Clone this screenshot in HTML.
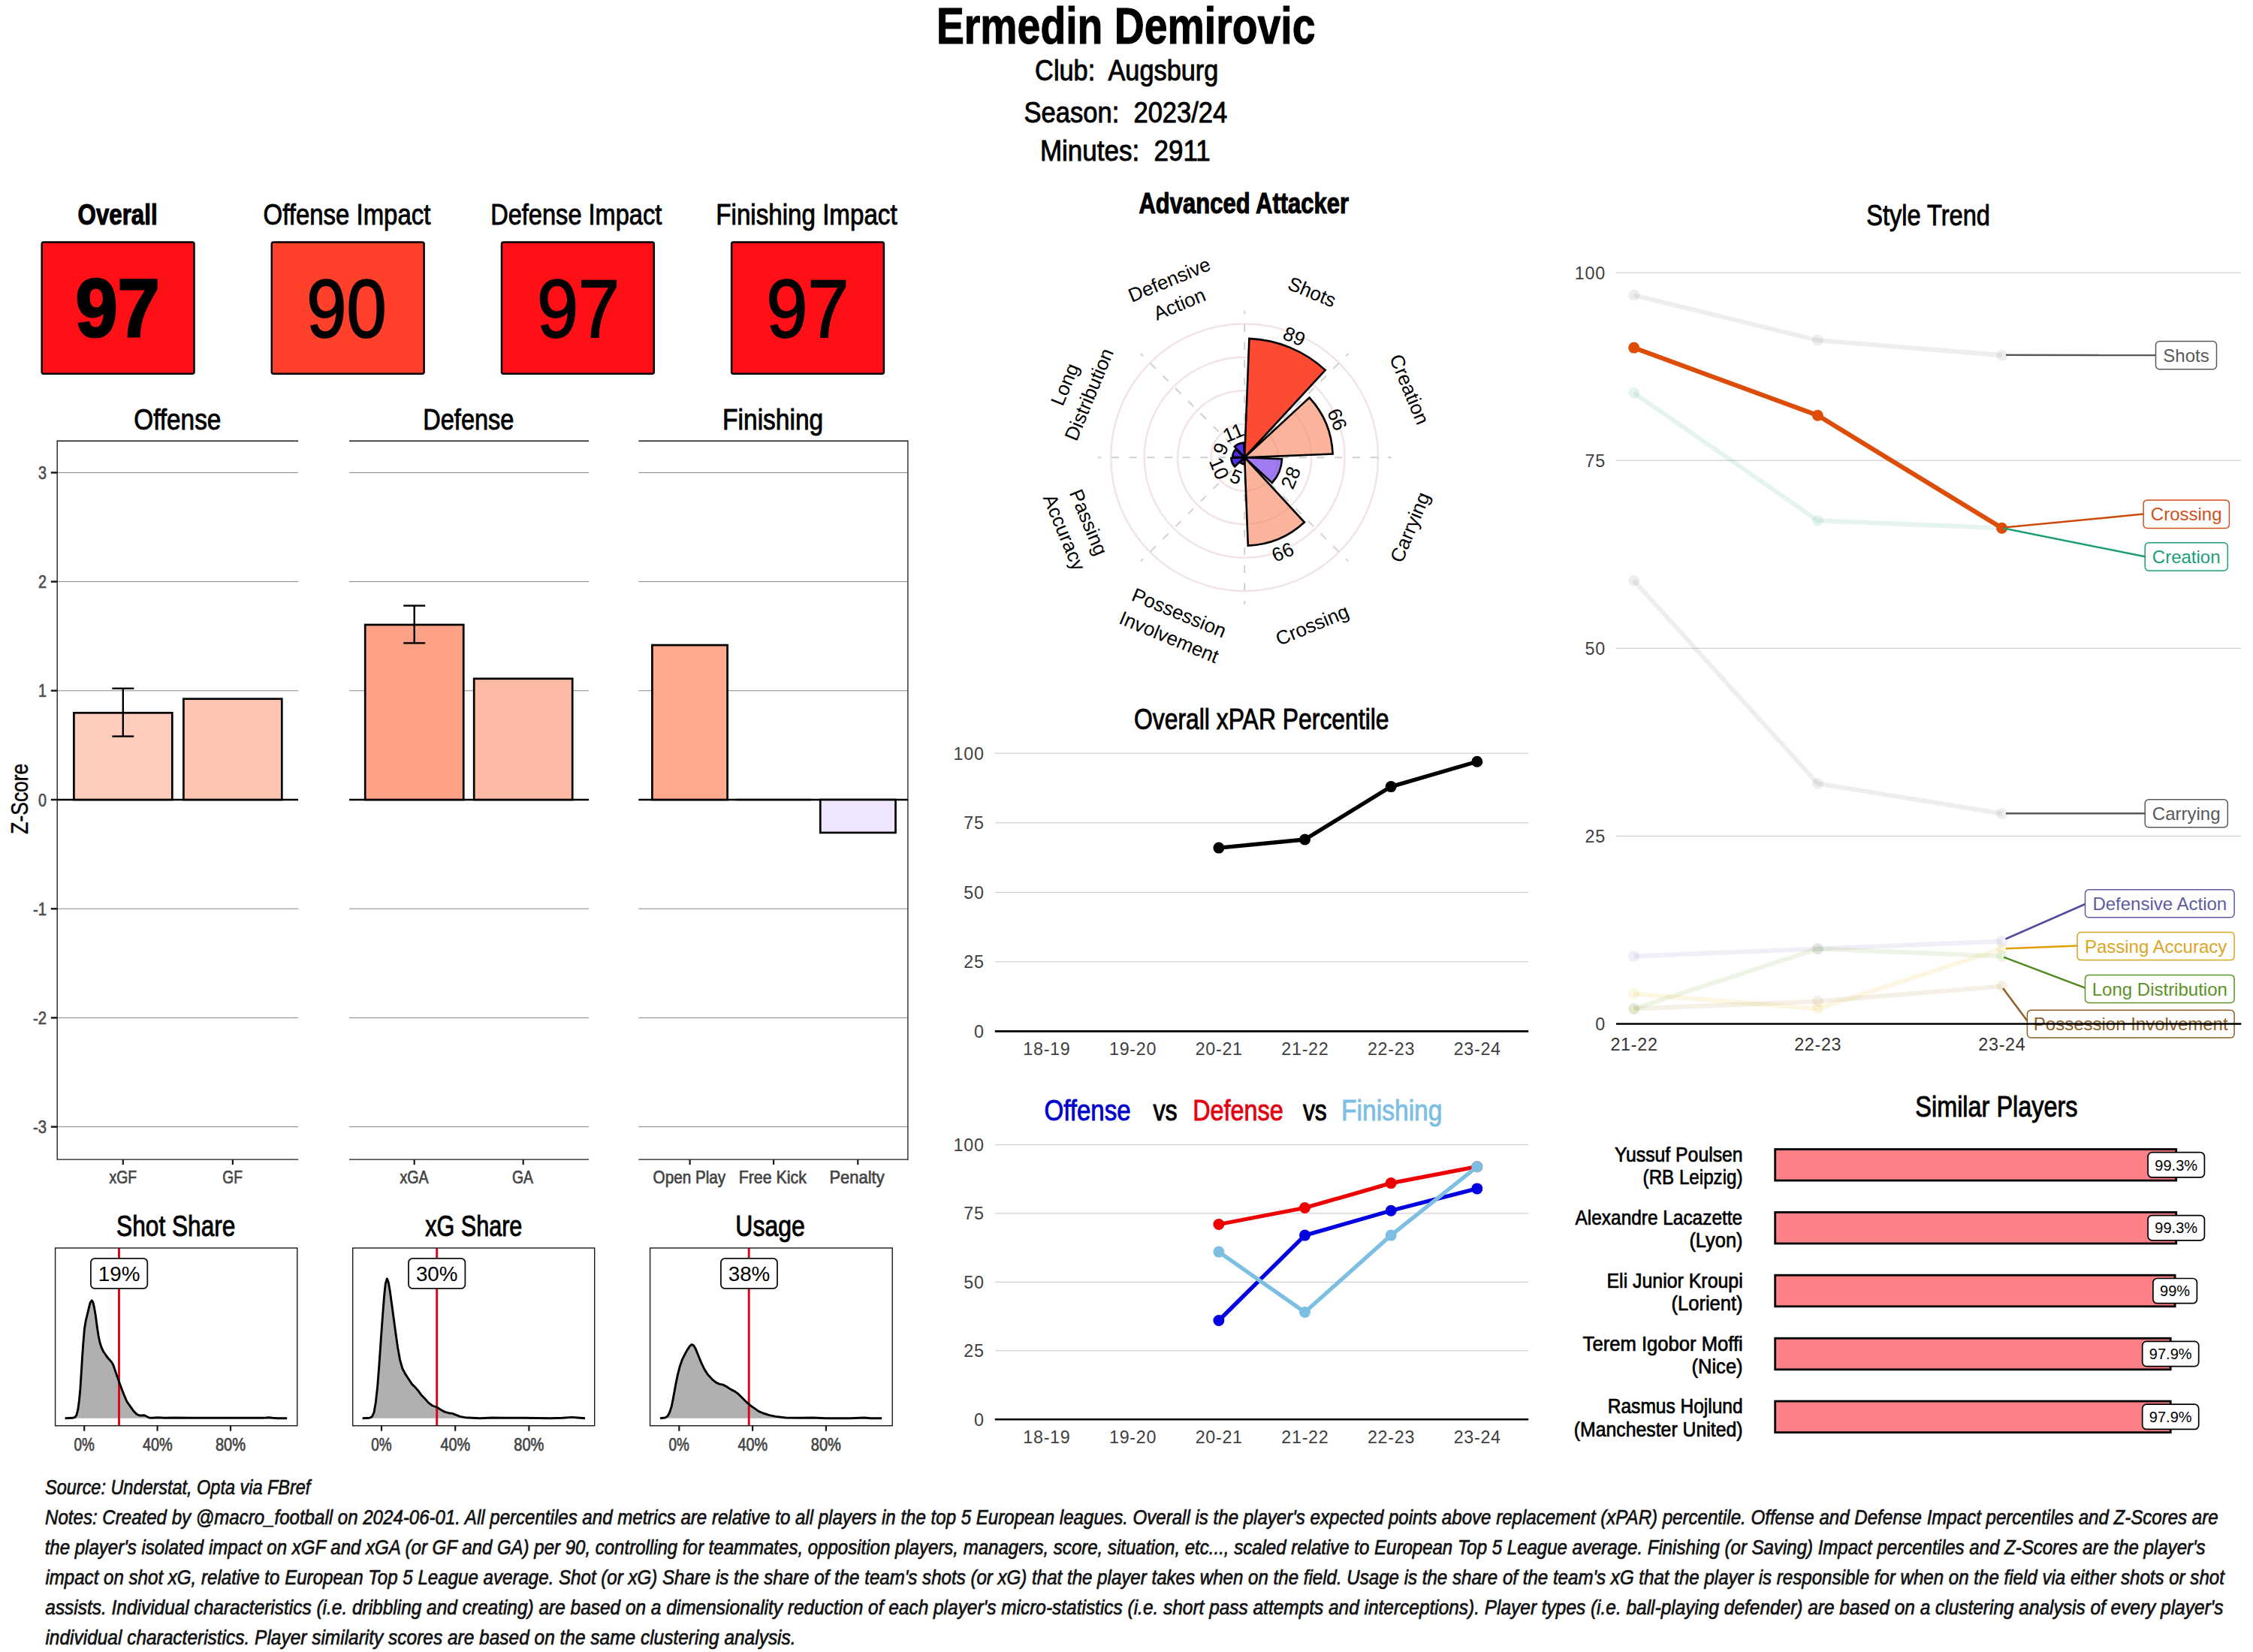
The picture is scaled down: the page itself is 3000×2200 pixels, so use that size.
<!DOCTYPE html>
<html lang="en"><head><meta charset="utf-8"><title>Ermedin Demirovic</title>
<style>
html,body{margin:0;padding:0;background:#fff;}
body{width:3000px;height:2200px;overflow:hidden;}
svg{display:block;font-family:'Liberation Sans', sans-serif;}
svg text{white-space:pre;}
</style></head><body>
<svg width="3000" height="2200" viewBox="0 0 3000 2200">
<rect width="3000" height="2200" fill="#fff"/>
<text x="1246.9" y="57.5" font-size="68.5" font-weight="bold" stroke="#000" stroke-width="1.1" textLength="504.6" lengthAdjust="spacingAndGlyphs">Ermedin Demirovic</text>
<text x="1378.1" y="106.5" font-size="38.6" stroke="#000" stroke-width="0.9" textLength="244.3" lengthAdjust="spacingAndGlyphs">Club:  Augsburg</text>
<text x="1363.5" y="162.5" font-size="38.6" stroke="#000" stroke-width="0.9" textLength="270.8" lengthAdjust="spacingAndGlyphs">Season:  2023/24</text>
<text x="1384.9" y="213.6" font-size="38.6" stroke="#000" stroke-width="0.9" textLength="226.9" lengthAdjust="spacingAndGlyphs">Minutes:  2911</text>
<g id="boxes">
<rect x="55.7" y="322.4" width="202.8" height="175.4" fill="#FF1016" stroke="#000" stroke-width="2.5" rx="2.5"/>
<rect x="361.8" y="322.4" width="202.8" height="175.4" fill="#FF402B" stroke="#000" stroke-width="2.5" rx="2.5"/>
<rect x="668.0" y="322.4" width="202.8" height="175.4" fill="#FF1016" stroke="#000" stroke-width="2.5" rx="2.5"/>
<rect x="974.1" y="322.4" width="202.8" height="175.4" fill="#FF1016" stroke="#000" stroke-width="2.5" rx="2.5"/>
</g>
<text x="103.6" y="299.3" font-size="38.6" font-weight="bold" stroke="#000" stroke-width="1.1" textLength="106.0" lengthAdjust="spacingAndGlyphs">Overall</text>
<text x="350.6" y="299.3" font-size="38.6" stroke="#000" stroke-width="0.9" textLength="222.8" lengthAdjust="spacingAndGlyphs">Offense Impact</text>
<text x="653.2" y="299.3" font-size="38.6" stroke="#000" stroke-width="0.9" textLength="228.1" lengthAdjust="spacingAndGlyphs">Defense Impact</text>
<text x="953.3" y="299.3" font-size="38.6" stroke="#000" stroke-width="0.9" textLength="241.3" lengthAdjust="spacingAndGlyphs">Finishing Impact</text>
<text x="100.4" y="448.4" font-size="109.5" font-weight="bold" stroke="#000" stroke-width="3.0" textLength="112.4" lengthAdjust="spacingAndGlyphs">97</text>
<text x="408.3" y="448.6" font-size="109.5" stroke="#000" stroke-width="2.0" textLength="106.4" lengthAdjust="spacingAndGlyphs">90</text>
<text x="714.9" y="448.6" font-size="109.5" stroke="#000" stroke-width="2.0" textLength="110.3" lengthAdjust="spacingAndGlyphs">97</text>
<text x="1020.6" y="448.6" font-size="109.5" stroke="#000" stroke-width="2.0" textLength="109.8" lengthAdjust="spacingAndGlyphs">97</text>
<line x1="76.2" y1="629.4" x2="397.1" y2="629.4" stroke="#858585" stroke-width="1.0"/>
<line x1="76.2" y1="774.6" x2="397.1" y2="774.6" stroke="#858585" stroke-width="1.0"/>
<line x1="76.2" y1="919.8" x2="397.1" y2="919.8" stroke="#858585" stroke-width="1.0"/>
<line x1="76.2" y1="1210.2" x2="397.1" y2="1210.2" stroke="#858585" stroke-width="1.0"/>
<line x1="76.2" y1="1355.4" x2="397.1" y2="1355.4" stroke="#858585" stroke-width="1.0"/>
<line x1="76.2" y1="1500.6" x2="397.1" y2="1500.6" stroke="#858585" stroke-width="1.0"/>
<line x1="76.2" y1="587.2" x2="397.1" y2="587.2" stroke="#1a1a1a" stroke-width="1.35"/>
<line x1="76.2" y1="1544.1" x2="397.1" y2="1544.1" stroke="#1a1a1a" stroke-width="1.35"/>
<line x1="465.0" y1="629.4" x2="784.1" y2="629.4" stroke="#858585" stroke-width="1.0"/>
<line x1="465.0" y1="774.6" x2="784.1" y2="774.6" stroke="#858585" stroke-width="1.0"/>
<line x1="465.0" y1="919.8" x2="784.1" y2="919.8" stroke="#858585" stroke-width="1.0"/>
<line x1="465.0" y1="1210.2" x2="784.1" y2="1210.2" stroke="#858585" stroke-width="1.0"/>
<line x1="465.0" y1="1355.4" x2="784.1" y2="1355.4" stroke="#858585" stroke-width="1.0"/>
<line x1="465.0" y1="1500.6" x2="784.1" y2="1500.6" stroke="#858585" stroke-width="1.0"/>
<line x1="465.0" y1="587.2" x2="784.1" y2="587.2" stroke="#1a1a1a" stroke-width="1.35"/>
<line x1="465.0" y1="1544.1" x2="784.1" y2="1544.1" stroke="#1a1a1a" stroke-width="1.35"/>
<line x1="850.3" y1="629.4" x2="1208.9" y2="629.4" stroke="#858585" stroke-width="1.0"/>
<line x1="850.3" y1="774.6" x2="1208.9" y2="774.6" stroke="#858585" stroke-width="1.0"/>
<line x1="850.3" y1="919.8" x2="1208.9" y2="919.8" stroke="#858585" stroke-width="1.0"/>
<line x1="850.3" y1="1210.2" x2="1208.9" y2="1210.2" stroke="#858585" stroke-width="1.0"/>
<line x1="850.3" y1="1355.4" x2="1208.9" y2="1355.4" stroke="#858585" stroke-width="1.0"/>
<line x1="850.3" y1="1500.6" x2="1208.9" y2="1500.6" stroke="#858585" stroke-width="1.0"/>
<line x1="850.3" y1="587.2" x2="1208.9" y2="587.2" stroke="#1a1a1a" stroke-width="1.35"/>
<line x1="850.3" y1="1544.1" x2="1208.9" y2="1544.1" stroke="#1a1a1a" stroke-width="1.35"/>
<line x1="76.2" y1="586.5" x2="76.2" y2="1544.8" stroke="#1a1a1a" stroke-width="1.35"/>
<line x1="1208.9" y1="586.4" x2="1208.9" y2="1544.9" stroke="#1a1a1a" stroke-width="1.3"/>
<line x1="67.8" y1="629.4" x2="76.2" y2="629.4" stroke="#1a1a1a" stroke-width="2.5"/>
<text x="62.0" y="638.0" font-size="24" text-anchor="end" fill="#4D4D4D" stroke="#4D4D4D" stroke-width="0.7" textLength="11.0" lengthAdjust="spacingAndGlyphs">3</text>
<line x1="67.8" y1="774.6" x2="76.2" y2="774.6" stroke="#1a1a1a" stroke-width="2.5"/>
<text x="62.0" y="783.2" font-size="24" text-anchor="end" fill="#4D4D4D" stroke="#4D4D4D" stroke-width="0.7" textLength="11.0" lengthAdjust="spacingAndGlyphs">2</text>
<line x1="67.8" y1="919.8" x2="76.2" y2="919.8" stroke="#1a1a1a" stroke-width="2.5"/>
<text x="62.0" y="928.4" font-size="24" text-anchor="end" fill="#4D4D4D" stroke="#4D4D4D" stroke-width="0.7" textLength="11.0" lengthAdjust="spacingAndGlyphs">1</text>
<line x1="67.8" y1="1065.0" x2="76.2" y2="1065.0" stroke="#1a1a1a" stroke-width="2.5"/>
<text x="62.0" y="1073.6" font-size="24" text-anchor="end" fill="#4D4D4D" stroke="#4D4D4D" stroke-width="0.7" textLength="11.0" lengthAdjust="spacingAndGlyphs">0</text>
<line x1="67.8" y1="1210.2" x2="76.2" y2="1210.2" stroke="#1a1a1a" stroke-width="2.5"/>
<text x="62.0" y="1218.8" font-size="24" text-anchor="end" fill="#4D4D4D" stroke="#4D4D4D" stroke-width="0.7" textLength="18.0" lengthAdjust="spacingAndGlyphs">-1</text>
<line x1="67.8" y1="1355.4" x2="76.2" y2="1355.4" stroke="#1a1a1a" stroke-width="2.5"/>
<text x="62.0" y="1364.0" font-size="24" text-anchor="end" fill="#4D4D4D" stroke="#4D4D4D" stroke-width="0.7" textLength="18.0" lengthAdjust="spacingAndGlyphs">-2</text>
<line x1="67.8" y1="1500.6" x2="76.2" y2="1500.6" stroke="#1a1a1a" stroke-width="2.5"/>
<text x="62.0" y="1509.2" font-size="24" text-anchor="end" fill="#4D4D4D" stroke="#4D4D4D" stroke-width="0.7" textLength="18.0" lengthAdjust="spacingAndGlyphs">-3</text>
<text font-size="30.5" stroke="#000" stroke-width="0.5" text-anchor="middle" textLength="94" lengthAdjust="spacingAndGlyphs" transform="translate(37.3 1063.7) rotate(-90)">Z-Score</text>
<text x="178.2" y="572.2" font-size="38.6" stroke="#000" stroke-width="0.9" textLength="116.2" lengthAdjust="spacingAndGlyphs">Offense</text>
<text x="563.3" y="572.2" font-size="38.6" stroke="#000" stroke-width="0.9" textLength="121.1" lengthAdjust="spacingAndGlyphs">Defense</text>
<text x="962.1" y="572.2" font-size="38.6" stroke="#000" stroke-width="0.9" textLength="134.1" lengthAdjust="spacingAndGlyphs">Finishing</text>
<line x1="76.2" y1="1065.0" x2="397.1" y2="1065.0" stroke="#000" stroke-width="2.6"/>
<line x1="465.0" y1="1065.0" x2="784.1" y2="1065.0" stroke="#000" stroke-width="2.6"/>
<line x1="850.3" y1="1065.0" x2="1208.9" y2="1065.0" stroke="#000" stroke-width="2.6"/>
<rect x="98.4" y="949.3" width="130.9" height="115.7" fill="#FECDBC" stroke="#000" stroke-width="2.7"/>
<rect x="244.4" y="930.7" width="130.9" height="134.3" fill="#FEC5B3" stroke="#000" stroke-width="2.7"/>
<line x1="163.8" y1="916.8" x2="163.8" y2="980.6" stroke="#000" stroke-width="2.4"/>
<line x1="149.3" y1="916.8" x2="178.3" y2="916.8" stroke="#000" stroke-width="2.4"/>
<line x1="149.3" y1="980.6" x2="178.3" y2="980.6" stroke="#000" stroke-width="2.4"/>
<rect x="486.2" y="832.0" width="131.0" height="233.0" fill="#FDA286" stroke="#000" stroke-width="2.7"/>
<rect x="631.2" y="903.8" width="131.0" height="161.2" fill="#FEBAA5" stroke="#000" stroke-width="2.7"/>
<line x1="551.7" y1="806.6" x2="551.7" y2="856.4" stroke="#000" stroke-width="2.4"/>
<line x1="537.2" y1="806.6" x2="566.2" y2="806.6" stroke="#000" stroke-width="2.4"/>
<line x1="537.2" y1="856.4" x2="566.2" y2="856.4" stroke="#000" stroke-width="2.4"/>
<rect x="868.4" y="859.1" width="100.2" height="205.9" fill="#FDA98E" stroke="#000" stroke-width="2.7"/>
<line x1="980.4" y1="1065.0" x2="1080.6" y2="1065.0" stroke="#000" stroke-width="2.4"/>
<rect x="1092.3" y="1065.0" width="100.2" height="43.9" fill="#EFE6FD" stroke="#000" stroke-width="2.7"/>
<line x1="163.8" y1="1544.1" x2="163.8" y2="1551.1" stroke="#1a1a1a" stroke-width="2.2"/>
<text x="145.6" y="1575.8" font-size="24" fill="#444444" stroke="#444444" stroke-width="0.7" textLength="36.6" lengthAdjust="spacingAndGlyphs">xGF</text>
<line x1="309.9" y1="1544.1" x2="309.9" y2="1551.1" stroke="#1a1a1a" stroke-width="2.2"/>
<text x="296.3" y="1575.8" font-size="24" fill="#444444" stroke="#444444" stroke-width="0.7" textLength="26.6" lengthAdjust="spacingAndGlyphs">GF</text>
<line x1="551.7" y1="1544.1" x2="551.7" y2="1551.1" stroke="#1a1a1a" stroke-width="2.2"/>
<text x="532.4" y="1575.8" font-size="24" fill="#444444" stroke="#444444" stroke-width="0.7" textLength="38.3" lengthAdjust="spacingAndGlyphs">xGA</text>
<line x1="696.7" y1="1544.1" x2="696.7" y2="1551.1" stroke="#1a1a1a" stroke-width="2.2"/>
<text x="682.0" y="1575.8" font-size="24" fill="#444444" stroke="#444444" stroke-width="0.7" textLength="28.0" lengthAdjust="spacingAndGlyphs">GA</text>
<line x1="918.6" y1="1544.1" x2="918.6" y2="1551.1" stroke="#1a1a1a" stroke-width="2.2"/>
<text x="869.6" y="1575.8" font-size="24" fill="#444444" stroke="#444444" stroke-width="0.7" textLength="96.6" lengthAdjust="spacingAndGlyphs">Open Play</text>
<line x1="1030.1" y1="1544.1" x2="1030.1" y2="1551.1" stroke="#1a1a1a" stroke-width="2.2"/>
<text x="983.7" y="1575.8" font-size="24" fill="#444444" stroke="#444444" stroke-width="0.7" textLength="90.2" lengthAdjust="spacingAndGlyphs">Free Kick</text>
<line x1="1142.3" y1="1544.1" x2="1142.3" y2="1551.1" stroke="#1a1a1a" stroke-width="2.2"/>
<text x="1104.5" y="1575.8" font-size="24" fill="#444444" stroke="#444444" stroke-width="0.7" textLength="73.1" lengthAdjust="spacingAndGlyphs">Penalty</text>
<text x="155.1" y="1646.3" font-size="38.6" stroke="#000" stroke-width="0.9" textLength="158.3" lengthAdjust="spacingAndGlyphs">Shot Share</text>
<path d="M86.6,1888.7 L96.5,1888.3 L99.9,1887.4 L101.9,1884.4 L103.9,1876.7 L105.5,1864.4 L106.9,1849.4 L108.2,1829.4 L109.5,1807.8 L110.9,1787.8 L112.5,1769.5 L114.2,1758.9 L116.5,1749.5 L118.5,1741.2 L120.2,1734.6 L122.2,1731.9 L123.8,1734.2 L125.5,1741.2 L127.2,1751.2 L129.2,1766.2 L131.2,1779.5 L133.2,1788.8 L135.5,1795.5 L138.1,1800.5 L141.5,1805.5 L145.1,1810.1 L148.5,1813.8 L150.8,1817.8 L153.1,1824.4 L156.5,1834.4 L160.5,1845.4 L164.8,1856.7 L169.1,1866.7 L173.8,1873.4 L178.1,1879.4 L182.1,1883.4 L185.8,1885.0 L189.1,1885.0 L191.7,1884.7 L194.7,1886.0 L198.7,1888.0 L203.1,1888.3 L209.7,1887.7 L219.7,1888.3 L233.0,1888.0 L253.0,1888.3 L299.6,1888.3 L349.5,1888.3 L354.5,1888.0 L357.9,1887.7 L362.8,1888.3 L369.5,1888.7 L382.2,1888.7 Z" fill="#B0B0B0" stroke="none"/>
<line x1="158.5" y1="1662.0" x2="158.5" y2="1898.7" stroke="#D6051A" stroke-width="2.9"/>
<path d="M86.6,1888.7 L96.5,1888.3 L99.9,1887.4 L101.9,1884.4 L103.9,1876.7 L105.5,1864.4 L106.9,1849.4 L108.2,1829.4 L109.5,1807.8 L110.9,1787.8 L112.5,1769.5 L114.2,1758.9 L116.5,1749.5 L118.5,1741.2 L120.2,1734.6 L122.2,1731.9 L123.8,1734.2 L125.5,1741.2 L127.2,1751.2 L129.2,1766.2 L131.2,1779.5 L133.2,1788.8 L135.5,1795.5 L138.1,1800.5 L141.5,1805.5 L145.1,1810.1 L148.5,1813.8 L150.8,1817.8 L153.1,1824.4 L156.5,1834.4 L160.5,1845.4 L164.8,1856.7 L169.1,1866.7 L173.8,1873.4 L178.1,1879.4 L182.1,1883.4 L185.8,1885.0 L189.1,1885.0 L191.7,1884.7 L194.7,1886.0 L198.7,1888.0 L203.1,1888.3 L209.7,1887.7 L219.7,1888.3 L233.0,1888.0 L253.0,1888.3 L299.6,1888.3 L349.5,1888.3 L354.5,1888.0 L357.9,1887.7 L362.8,1888.3 L369.5,1888.7 L382.2,1888.7" fill="none" stroke="#000" stroke-width="2.9" stroke-linejoin="round"/>
<rect x="73.6" y="1662.0" width="322.2" height="236.7" fill="none" stroke="#1a1a1a" stroke-width="1.4"/>
<rect x="120.9" y="1675.9" width="75.4" height="40.0" fill="#fff" stroke="#111" stroke-width="1.8" rx="5.5"/>
<text x="158.6" y="1705.8" font-size="27.8" text-anchor="middle">19%</text>
<line x1="112.2" y1="1898.7" x2="112.2" y2="1905.7" stroke="#1a1a1a" stroke-width="2.2"/>
<text x="98.5" y="1931.6" font-size="24" fill="#444444" stroke="#444444" stroke-width="0.7" textLength="27.3" lengthAdjust="spacingAndGlyphs">0%</text>
<line x1="209.6" y1="1898.7" x2="209.6" y2="1905.7" stroke="#1a1a1a" stroke-width="2.2"/>
<text x="189.9" y="1931.6" font-size="24" fill="#444444" stroke="#444444" stroke-width="0.7" textLength="39.7" lengthAdjust="spacingAndGlyphs">40%</text>
<line x1="307.0" y1="1898.7" x2="307.0" y2="1905.7" stroke="#1a1a1a" stroke-width="2.2"/>
<text x="286.9" y="1931.6" font-size="24" fill="#444444" stroke="#444444" stroke-width="0.7" textLength="40.1" lengthAdjust="spacingAndGlyphs">80%</text>
<text x="566.2" y="1646.3" font-size="38.6" stroke="#000" stroke-width="0.9" textLength="129.2" lengthAdjust="spacingAndGlyphs">xG Share</text>
<path d="M482.7,1888.7 L492.0,1888.3 L495.3,1886.7 L498.0,1881.0 L500.3,1867.7 L502.7,1846.1 L505.0,1816.1 L507.3,1782.8 L509.7,1749.5 L511.7,1724.6 L513.3,1709.6 L515.3,1702.9 L517.3,1707.9 L519.3,1719.6 L521.6,1736.2 L524.3,1756.2 L527.0,1776.2 L529.6,1794.5 L532.6,1811.1 L536.0,1822.8 L539.9,1830.1 L544.3,1836.8 L548.6,1843.4 L552.6,1847.1 L556.6,1851.7 L560.9,1857.7 L565.9,1862.7 L570.9,1868.4 L575.9,1872.0 L581.6,1874.0 L587.5,1877.7 L592.5,1880.4 L597.5,1881.7 L602.5,1882.4 L607.5,1884.4 L612.5,1886.4 L619.2,1887.7 L629.2,1888.3 L639.1,1888.7 L655.8,1888.0 L672.4,1888.3 L699.1,1888.3 L732.4,1888.7 L749.0,1888.3 L762.3,1887.4 L769.0,1888.0 L779.0,1888.7 Z" fill="#B0B0B0" stroke="none"/>
<line x1="581.7" y1="1662.0" x2="581.7" y2="1898.7" stroke="#D6051A" stroke-width="2.9"/>
<path d="M482.7,1888.7 L492.0,1888.3 L495.3,1886.7 L498.0,1881.0 L500.3,1867.7 L502.7,1846.1 L505.0,1816.1 L507.3,1782.8 L509.7,1749.5 L511.7,1724.6 L513.3,1709.6 L515.3,1702.9 L517.3,1707.9 L519.3,1719.6 L521.6,1736.2 L524.3,1756.2 L527.0,1776.2 L529.6,1794.5 L532.6,1811.1 L536.0,1822.8 L539.9,1830.1 L544.3,1836.8 L548.6,1843.4 L552.6,1847.1 L556.6,1851.7 L560.9,1857.7 L565.9,1862.7 L570.9,1868.4 L575.9,1872.0 L581.6,1874.0 L587.5,1877.7 L592.5,1880.4 L597.5,1881.7 L602.5,1882.4 L607.5,1884.4 L612.5,1886.4 L619.2,1887.7 L629.2,1888.3 L639.1,1888.7 L655.8,1888.0 L672.4,1888.3 L699.1,1888.3 L732.4,1888.7 L749.0,1888.3 L762.3,1887.4 L769.0,1888.0 L779.0,1888.7" fill="none" stroke="#000" stroke-width="2.9" stroke-linejoin="round"/>
<rect x="469.7" y="1662.0" width="322.0" height="236.7" fill="none" stroke="#1a1a1a" stroke-width="1.4"/>
<rect x="544.0" y="1675.9" width="75.4" height="40.0" fill="#fff" stroke="#111" stroke-width="1.8" rx="5.5"/>
<text x="581.7" y="1705.8" font-size="27.8" text-anchor="middle">30%</text>
<line x1="508.0" y1="1898.7" x2="508.0" y2="1905.7" stroke="#1a1a1a" stroke-width="2.2"/>
<text x="494.3" y="1931.6" font-size="24" fill="#444444" stroke="#444444" stroke-width="0.7" textLength="27.3" lengthAdjust="spacingAndGlyphs">0%</text>
<line x1="606.2" y1="1898.7" x2="606.2" y2="1905.7" stroke="#1a1a1a" stroke-width="2.2"/>
<text x="586.5" y="1931.6" font-size="24" fill="#444444" stroke="#444444" stroke-width="0.7" textLength="39.7" lengthAdjust="spacingAndGlyphs">40%</text>
<line x1="704.4" y1="1898.7" x2="704.4" y2="1905.7" stroke="#1a1a1a" stroke-width="2.2"/>
<text x="684.3" y="1931.6" font-size="24" fill="#444444" stroke="#444444" stroke-width="0.7" textLength="40.1" lengthAdjust="spacingAndGlyphs">80%</text>
<text x="979.3" y="1646.3" font-size="38.6" stroke="#000" stroke-width="0.9" textLength="92.5" lengthAdjust="spacingAndGlyphs">Usage</text>
<path d="M879.0,1888.7 L885.6,1888.0 L888.9,1886.0 L891.6,1881.0 L894.3,1872.7 L896.9,1859.4 L899.6,1844.4 L902.3,1831.1 L905.3,1819.4 L908.6,1810.1 L912.3,1802.8 L916.2,1796.1 L918.9,1792.1 L921.2,1790.5 L923.6,1791.8 L926.2,1796.1 L929.6,1804.5 L933.6,1814.4 L937.9,1823.4 L942.9,1831.1 L948.5,1837.1 L953.5,1841.1 L957.9,1843.1 L962.8,1844.1 L967.8,1846.7 L972.8,1850.1 L978.8,1853.1 L983.5,1856.7 L988.8,1862.1 L994.5,1867.7 L999.5,1872.0 L1004.5,1875.4 L1010.1,1879.4 L1016.1,1882.0 L1024.4,1884.7 L1032.8,1886.4 L1046.1,1888.0 L1066.0,1888.3 L1082.7,1888.0 L1099.3,1888.7 L1132.6,1888.7 L1144.3,1888.3 L1150.9,1888.0 L1159.3,1888.7 L1174.2,1888.7 Z" fill="#B0B0B0" stroke="none"/>
<line x1="997.2" y1="1662.0" x2="997.2" y2="1898.7" stroke="#D6051A" stroke-width="2.9"/>
<path d="M879.0,1888.7 L885.6,1888.0 L888.9,1886.0 L891.6,1881.0 L894.3,1872.7 L896.9,1859.4 L899.6,1844.4 L902.3,1831.1 L905.3,1819.4 L908.6,1810.1 L912.3,1802.8 L916.2,1796.1 L918.9,1792.1 L921.2,1790.5 L923.6,1791.8 L926.2,1796.1 L929.6,1804.5 L933.6,1814.4 L937.9,1823.4 L942.9,1831.1 L948.5,1837.1 L953.5,1841.1 L957.9,1843.1 L962.8,1844.1 L967.8,1846.7 L972.8,1850.1 L978.8,1853.1 L983.5,1856.7 L988.8,1862.1 L994.5,1867.7 L999.5,1872.0 L1004.5,1875.4 L1010.1,1879.4 L1016.1,1882.0 L1024.4,1884.7 L1032.8,1886.4 L1046.1,1888.0 L1066.0,1888.3 L1082.7,1888.0 L1099.3,1888.7 L1132.6,1888.7 L1144.3,1888.3 L1150.9,1888.0 L1159.3,1888.7 L1174.2,1888.7" fill="none" stroke="#000" stroke-width="2.9" stroke-linejoin="round"/>
<rect x="865.6" y="1662.0" width="322.6" height="236.7" fill="none" stroke="#1a1a1a" stroke-width="1.4"/>
<rect x="959.9" y="1675.9" width="75.1" height="40.0" fill="#fff" stroke="#111" stroke-width="1.8" rx="5.5"/>
<text x="997.5" y="1705.8" font-size="27.8" text-anchor="middle">38%</text>
<line x1="904.3" y1="1898.7" x2="904.3" y2="1905.7" stroke="#1a1a1a" stroke-width="2.2"/>
<text x="890.6" y="1931.6" font-size="24" fill="#444444" stroke="#444444" stroke-width="0.7" textLength="27.3" lengthAdjust="spacingAndGlyphs">0%</text>
<line x1="1002.1" y1="1898.7" x2="1002.1" y2="1905.7" stroke="#1a1a1a" stroke-width="2.2"/>
<text x="982.4" y="1931.6" font-size="24" fill="#444444" stroke="#444444" stroke-width="0.7" textLength="39.7" lengthAdjust="spacingAndGlyphs">40%</text>
<line x1="1099.9" y1="1898.7" x2="1099.9" y2="1905.7" stroke="#1a1a1a" stroke-width="2.2"/>
<text x="1079.8" y="1931.6" font-size="24" fill="#444444" stroke="#444444" stroke-width="0.7" textLength="40.1" lengthAdjust="spacingAndGlyphs">80%</text>
<text x="1516.5" y="284.3" font-size="38.6" font-weight="bold" stroke="#000" stroke-width="1.1" textLength="279.5" lengthAdjust="spacingAndGlyphs">Advanced Attacker</text>
<circle cx="1657.2" cy="609.2" r="44.5" fill="none" stroke="#F2E3E6" stroke-width="2.5"/>
<circle cx="1657.2" cy="609.2" r="89.0" fill="none" stroke="#F2E3E6" stroke-width="2.5"/>
<circle cx="1657.2" cy="609.2" r="133.5" fill="none" stroke="#F2E3E6" stroke-width="2.5"/>
<circle cx="1657.2" cy="609.2" r="178.0" fill="none" stroke="#F2E3E6" stroke-width="2.5"/>
<line x1="1657.2" y1="609.2" x2="1657.2" y2="413.7" stroke="#CFCFCF" stroke-width="1.9" stroke-dasharray="10.2 13.5" stroke-dashoffset="-1.3"/>
<line x1="1657.2" y1="609.2" x2="1795.4" y2="471.0" stroke="#CFCFCF" stroke-width="1.9" stroke-dasharray="10.2 13.5" stroke-dashoffset="-1.3"/>
<line x1="1657.2" y1="609.2" x2="1852.7" y2="609.2" stroke="#CFCFCF" stroke-width="1.9" stroke-dasharray="10.2 13.5" stroke-dashoffset="-1.3"/>
<line x1="1657.2" y1="609.2" x2="1795.4" y2="747.4" stroke="#CFCFCF" stroke-width="1.9" stroke-dasharray="10.2 13.5" stroke-dashoffset="-1.3"/>
<line x1="1657.2" y1="609.2" x2="1657.2" y2="804.7" stroke="#CFCFCF" stroke-width="1.9" stroke-dasharray="10.2 13.5" stroke-dashoffset="-1.3"/>
<line x1="1657.2" y1="609.2" x2="1519.0" y2="747.4" stroke="#CFCFCF" stroke-width="1.9" stroke-dasharray="10.2 13.5" stroke-dashoffset="-1.3"/>
<line x1="1657.2" y1="609.2" x2="1461.7" y2="609.2" stroke="#CFCFCF" stroke-width="1.9" stroke-dasharray="10.2 13.5" stroke-dashoffset="-1.3"/>
<line x1="1657.2" y1="609.2" x2="1519.0" y2="471.0" stroke="#CFCFCF" stroke-width="1.9" stroke-dasharray="10.2 13.5" stroke-dashoffset="-1.3"/>
<path d="M1657.2,609.2 L1663.4,450.9 A158.4,158.4 0 0 1 1764.7,492.9 Z" fill="#FC4A33" stroke="#000" stroke-width="2.6" stroke-linejoin="miter"/>
<path d="M1657.2,609.2 L1743.5,529.5 A117.5,117.5 0 0 1 1774.6,604.6 Z" fill="#FCB49B" stroke="#000" stroke-width="2.6" stroke-linejoin="miter"/>
<path d="M1657.2,609.2 L1707.0,611.2 A49.8,49.8 0 0 1 1693.8,643.0 Z" fill="#A17CF2" stroke="#000" stroke-width="2.6" stroke-linejoin="miter"/>
<path d="M1657.2,609.2 L1736.9,695.5 A117.5,117.5 0 0 1 1661.8,726.6 Z" fill="#FCB49B" stroke="#000" stroke-width="2.6" stroke-linejoin="miter"/>
<path d="M1657.2,609.2 L1656.9,618.1 A8.9,8.9 0 0 1 1651.2,615.7 Z" fill="#4326E4" stroke="#000" stroke-width="2.6" stroke-linejoin="miter"/>
<path d="M1657.2,609.2 L1644.1,621.3 A17.8,17.8 0 0 1 1639.4,609.9 Z" fill="#5030E8" stroke="#000" stroke-width="2.6" stroke-linejoin="miter"/>
<path d="M1657.2,609.2 L1641.2,608.6 A16.0,16.0 0 0 1 1645.4,598.3 Z" fill="#4D2EE7" stroke="#000" stroke-width="2.6" stroke-linejoin="miter"/>
<path d="M1657.2,609.2 L1643.9,594.8 A19.6,19.6 0 0 1 1656.4,589.6 Z" fill="#5332E9" stroke="#000" stroke-width="2.6" stroke-linejoin="miter"/>
<clipPath id="pc"><path d="M1657.2,609.2 L1743.5,529.5 A117.5,117.5 0 0 1 1774.6,604.6 Z M1657.2,609.2 L1707.0,611.2 A49.8,49.8 0 0 1 1693.8,643.0 Z M1657.2,609.2 L1736.9,695.5 A117.5,117.5 0 0 1 1661.8,726.6 Z"/></clipPath>
<g clip-path="url(#pc)" opacity="0.05">
<circle cx="1657.2" cy="609.2" r="44.5" fill="none" stroke="#000" stroke-width="2"/>
<circle cx="1657.2" cy="609.2" r="89.0" fill="none" stroke="#000" stroke-width="2"/>
<circle cx="1657.2" cy="609.2" r="133.5" fill="none" stroke="#000" stroke-width="2"/>
</g>
<text font-size="26" text-anchor="middle" transform="translate(1723.5 447.7) rotate(22.5)" y="9.3">89</text>
<text font-size="26" text-anchor="middle" transform="translate(1747.2 388.5) rotate(22.5)" y="9.3">Shots</text>
<text font-size="26" text-anchor="middle" transform="translate(1780.9 558.5) rotate(67.5)" y="9.3">66</text>
<text font-size="26" text-anchor="middle" transform="translate(1877.1 518.4) rotate(67.5)" y="9.3">Creation</text>
<text font-size="26" text-anchor="middle" transform="translate(1718.4 636.0) rotate(-67.5)" y="9.3">28</text>
<text font-size="26" text-anchor="middle" transform="translate(1877.1 702.0) rotate(-67.5)" y="9.3">Carrying</text>
<text font-size="26" text-anchor="middle" transform="translate(1707.9 734.9) rotate(-22.5)" y="9.3">66</text>
<text font-size="26" text-anchor="middle" transform="translate(1747.2 831.9) rotate(-22.5)" y="9.3">Crossing</text>
<text font-size="26" text-anchor="middle" transform="translate(1646.1 634.6) rotate(22.5)" y="9.3">5</text>
<text font-size="26" text-anchor="middle" transform="translate(1563.6 831.9) rotate(22.5)"><tspan x="0" y="-8.2">Possession</tspan><tspan x="0" y="26.8">Involvement</tspan></text>
<text font-size="26" text-anchor="middle" transform="translate(1623.6 623.7) rotate(67.5)" y="9.3">10</text>
<text font-size="26" text-anchor="middle" transform="translate(1433.7 702.0) rotate(67.5)"><tspan x="0" y="-8.2">Passing</tspan><tspan x="0" y="26.8">Accuracy</tspan></text>
<text font-size="26" text-anchor="middle" transform="translate(1625.2 597.4) rotate(292.5)" y="9.3">9</text>
<text font-size="26" text-anchor="middle" transform="translate(1433.7 518.4) rotate(292.5)"><tspan x="0" y="-8.2">Long</tspan><tspan x="0" y="26.8">Distribution</tspan></text>
<text font-size="26" text-anchor="middle" transform="translate(1642.0 575.9) rotate(337.5)" y="9.3">11</text>
<text font-size="26" text-anchor="middle" transform="translate(1563.6 388.5) rotate(337.5)"><tspan x="0" y="-8.2">Defensive</tspan><tspan x="0" y="26.8">Action</tspan></text>
<line x1="1325.0" y1="1003.2" x2="2035.2" y2="1003.2" stroke="#C6C6C6" stroke-width="1.0"/>
<line x1="1325.0" y1="1095.8" x2="2035.2" y2="1095.8" stroke="#C6C6C6" stroke-width="1.0"/>
<line x1="1325.0" y1="1188.3" x2="2035.2" y2="1188.3" stroke="#C6C6C6" stroke-width="1.0"/>
<line x1="1325.0" y1="1280.9" x2="2035.2" y2="1280.9" stroke="#C6C6C6" stroke-width="1.0"/>
<line x1="1324.8" y1="1373.4" x2="2035.2" y2="1373.4" stroke="#000" stroke-width="2.6"/>
<text x="1310.6" y="1011.6" font-size="23.3" text-anchor="end" fill="#404040" letter-spacing="0.7">100</text>
<text x="1310.6" y="1104.2" font-size="23.3" text-anchor="end" fill="#404040" letter-spacing="0.7">75</text>
<text x="1310.6" y="1196.7" font-size="23.3" text-anchor="end" fill="#404040" letter-spacing="0.7">50</text>
<text x="1310.6" y="1289.3" font-size="23.3" text-anchor="end" fill="#404040" letter-spacing="0.7">25</text>
<text x="1310.6" y="1381.8" font-size="23.3" text-anchor="end" fill="#404040" letter-spacing="0.7">0</text>
<text x="1393.9" y="1404.8" font-size="23.3" text-anchor="middle" fill="#404040" letter-spacing="0.7">18-19</text>
<text x="1508.6" y="1404.8" font-size="23.3" text-anchor="middle" fill="#404040" letter-spacing="0.7">19-20</text>
<text x="1623.2" y="1404.8" font-size="23.3" text-anchor="middle" fill="#404040" letter-spacing="0.7">20-21</text>
<text x="1737.9" y="1404.8" font-size="23.3" text-anchor="middle" fill="#404040" letter-spacing="0.7">21-22</text>
<text x="1852.5" y="1404.8" font-size="23.3" text-anchor="middle" fill="#404040" letter-spacing="0.7">22-23</text>
<text x="1967.2" y="1404.8" font-size="23.3" text-anchor="middle" fill="#404040" letter-spacing="0.7">23-24</text>
<text x="1509.9" y="970.6" font-size="38.6" stroke="#000" stroke-width="0.9" textLength="339.7" lengthAdjust="spacingAndGlyphs">Overall xPAR Percentile</text>
<polyline points="1622.9,1129.1 1737.5,1118.0 1852.2,1047.6 1966.8,1014.3" fill="none" stroke="#000" stroke-width="5.3" stroke-linejoin="round" stroke-linecap="butt"/>
<circle cx="1622.9" cy="1129.1" r="7.5" fill="#000"/>
<circle cx="1737.5" cy="1118.0" r="7.5" fill="#000"/>
<circle cx="1852.2" cy="1047.6" r="7.5" fill="#000"/>
<circle cx="1966.8" cy="1014.3" r="7.5" fill="#000"/>
<line x1="1325.0" y1="1524.4" x2="2035.2" y2="1524.4" stroke="#C6C6C6" stroke-width="1.0"/>
<line x1="1325.0" y1="1615.9" x2="2035.2" y2="1615.9" stroke="#C6C6C6" stroke-width="1.0"/>
<line x1="1325.0" y1="1707.3" x2="2035.2" y2="1707.3" stroke="#C6C6C6" stroke-width="1.0"/>
<line x1="1325.0" y1="1798.8" x2="2035.2" y2="1798.8" stroke="#C6C6C6" stroke-width="1.0"/>
<line x1="1324.8" y1="1890.2" x2="2035.2" y2="1890.2" stroke="#000" stroke-width="2.6"/>
<text x="1310.6" y="1532.8" font-size="23.3" text-anchor="end" fill="#404040" letter-spacing="0.7">100</text>
<text x="1310.6" y="1624.3" font-size="23.3" text-anchor="end" fill="#404040" letter-spacing="0.7">75</text>
<text x="1310.6" y="1715.7" font-size="23.3" text-anchor="end" fill="#404040" letter-spacing="0.7">50</text>
<text x="1310.6" y="1807.2" font-size="23.3" text-anchor="end" fill="#404040" letter-spacing="0.7">25</text>
<text x="1310.6" y="1898.6" font-size="23.3" text-anchor="end" fill="#404040" letter-spacing="0.7">0</text>
<text x="1393.9" y="1921.6" font-size="23.3" text-anchor="middle" fill="#404040" letter-spacing="0.7">18-19</text>
<text x="1508.6" y="1921.6" font-size="23.3" text-anchor="middle" fill="#404040" letter-spacing="0.7">19-20</text>
<text x="1623.2" y="1921.6" font-size="23.3" text-anchor="middle" fill="#404040" letter-spacing="0.7">20-21</text>
<text x="1737.9" y="1921.6" font-size="23.3" text-anchor="middle" fill="#404040" letter-spacing="0.7">21-22</text>
<text x="1852.5" y="1921.6" font-size="23.3" text-anchor="middle" fill="#404040" letter-spacing="0.7">22-23</text>
<text x="1967.2" y="1921.6" font-size="23.3" text-anchor="middle" fill="#404040" letter-spacing="0.7">23-24</text>
<text x="1390.5" y="1491.9" font-size="38.6" fill="#0000CD" stroke="#0000CD" stroke-width="0.9" textLength="115.1" lengthAdjust="spacingAndGlyphs">Offense</text>
<text x="1535.4" y="1491.9" font-size="38.6" stroke="#000" stroke-width="0.9" textLength="32.3" lengthAdjust="spacingAndGlyphs">vs</text>
<text x="1588.2" y="1491.9" font-size="38.6" fill="#E3000F" stroke="#E3000F" stroke-width="0.9" textLength="120.5" lengthAdjust="spacingAndGlyphs">Defense</text>
<text x="1734.9" y="1491.9" font-size="38.6" stroke="#000" stroke-width="0.9" textLength="31.9" lengthAdjust="spacingAndGlyphs">vs</text>
<text x="1786.0" y="1491.9" font-size="38.6" fill="#7CBFE3" stroke="#7CBFE3" stroke-width="0.9" textLength="134.5" lengthAdjust="spacingAndGlyphs">Finishing</text>
<polyline points="1622.9,1630.5 1737.5,1608.5 1852.2,1575.6 1966.8,1553.7" fill="none" stroke="#EE0000" stroke-width="5.3" stroke-linejoin="round" stroke-linecap="butt"/>
<circle cx="1622.9" cy="1630.5" r="7.5" fill="#EE0000"/>
<circle cx="1737.5" cy="1608.5" r="7.5" fill="#EE0000"/>
<circle cx="1852.2" cy="1575.6" r="7.5" fill="#EE0000"/>
<circle cx="1966.8" cy="1553.7" r="7.5" fill="#EE0000"/>
<polyline points="1622.9,1758.5 1737.5,1645.1 1852.2,1612.2 1966.8,1582.9" fill="none" stroke="#0000E0" stroke-width="5.3" stroke-linejoin="round" stroke-linecap="butt"/>
<circle cx="1622.9" cy="1758.5" r="7.5" fill="#0000E0"/>
<circle cx="1737.5" cy="1645.1" r="7.5" fill="#0000E0"/>
<circle cx="1852.2" cy="1612.2" r="7.5" fill="#0000E0"/>
<circle cx="1966.8" cy="1582.9" r="7.5" fill="#0000E0"/>
<polyline points="1622.9,1667.1 1737.5,1747.5 1852.2,1645.1 1966.8,1553.7" fill="none" stroke="#7CBFE3" stroke-width="5.3" stroke-linejoin="round" stroke-linecap="butt"/>
<circle cx="1622.9" cy="1667.1" r="7.5" fill="#7CBFE3"/>
<circle cx="1737.5" cy="1747.5" r="7.5" fill="#7CBFE3"/>
<circle cx="1852.2" cy="1645.1" r="7.5" fill="#7CBFE3"/>
<circle cx="1966.8" cy="1553.7" r="7.5" fill="#7CBFE3"/>
<text x="2485.3" y="300.3" font-size="38.6" stroke="#000" stroke-width="0.9" textLength="164.6" lengthAdjust="spacingAndGlyphs">Style Trend</text>
<line x1="2151.5" y1="363.1" x2="2984.2" y2="363.1" stroke="#C6C6C6" stroke-width="1.0"/>
<line x1="2151.5" y1="613.2" x2="2984.2" y2="613.2" stroke="#C6C6C6" stroke-width="1.0"/>
<line x1="2151.5" y1="863.3" x2="2984.2" y2="863.3" stroke="#C6C6C6" stroke-width="1.0"/>
<line x1="2151.5" y1="1113.4" x2="2984.2" y2="1113.4" stroke="#C6C6C6" stroke-width="1.0"/>
<text x="2137.8" y="371.5" font-size="23.3" text-anchor="end" fill="#404040" letter-spacing="0.7">100</text>
<text x="2137.8" y="621.6" font-size="23.3" text-anchor="end" fill="#404040" letter-spacing="0.7">75</text>
<text x="2137.8" y="871.7" font-size="23.3" text-anchor="end" fill="#404040" letter-spacing="0.7">50</text>
<text x="2137.8" y="1121.8" font-size="23.3" text-anchor="end" fill="#404040" letter-spacing="0.7">25</text>
<text x="2137.8" y="1371.9" font-size="23.3" text-anchor="end" fill="#404040" letter-spacing="0.7">0</text>
<text x="2176.0" y="1399.0" font-size="23.3" text-anchor="middle" fill="#333333" letter-spacing="0.7">21-22</text>
<text x="2420.7" y="1399.0" font-size="23.3" text-anchor="middle" fill="#333333" letter-spacing="0.7">22-23</text>
<text x="2665.9" y="1399.0" font-size="23.3" text-anchor="middle" fill="#333333" letter-spacing="0.7">23-24</text>
<polyline points="2175.7,773.3 2420.4,1043.4 2665.6,1083.4" fill="none" stroke="#666666" stroke-width="6.1" stroke-linejoin="round" opacity="0.11"/>
<circle cx="2175.7" cy="773.3" r="7.5" fill="#666666" opacity="0.11"/>
<circle cx="2420.4" cy="1043.4" r="7.5" fill="#666666" opacity="0.11"/>
<circle cx="2665.6" cy="1083.4" r="7.5" fill="#666666" opacity="0.11"/>
<polyline points="2175.7,523.2 2420.4,693.2 2665.6,703.2" fill="none" stroke="#1B9E77" stroke-width="6.1" stroke-linejoin="round" opacity="0.11"/>
<circle cx="2175.7" cy="523.2" r="7.5" fill="#1B9E77" opacity="0.11"/>
<circle cx="2420.4" cy="693.2" r="7.5" fill="#1B9E77" opacity="0.11"/>
<circle cx="2665.6" cy="703.2" r="7.5" fill="#1B9E77" opacity="0.11"/>
<polyline points="2175.7,1273.5 2420.4,1263.5 2665.6,1253.5" fill="none" stroke="#7570B3" stroke-width="6.1" stroke-linejoin="round" opacity="0.11"/>
<circle cx="2175.7" cy="1273.5" r="7.5" fill="#7570B3" opacity="0.11"/>
<circle cx="2420.4" cy="1263.5" r="7.5" fill="#7570B3" opacity="0.11"/>
<circle cx="2665.6" cy="1253.5" r="7.5" fill="#7570B3" opacity="0.11"/>
<polyline points="2175.7,1343.5 2420.4,1263.5 2665.6,1273.5" fill="none" stroke="#66A61E" stroke-width="6.1" stroke-linejoin="round" opacity="0.11"/>
<circle cx="2175.7" cy="1343.5" r="7.5" fill="#66A61E" opacity="0.11"/>
<circle cx="2420.4" cy="1263.5" r="7.5" fill="#66A61E" opacity="0.11"/>
<circle cx="2665.6" cy="1273.5" r="7.5" fill="#66A61E" opacity="0.11"/>
<polyline points="2175.7,1323.5 2420.4,1343.5 2665.6,1263.5" fill="none" stroke="#E6AB02" stroke-width="6.1" stroke-linejoin="round" opacity="0.11"/>
<circle cx="2175.7" cy="1323.5" r="7.5" fill="#E6AB02" opacity="0.11"/>
<circle cx="2420.4" cy="1343.5" r="7.5" fill="#E6AB02" opacity="0.11"/>
<circle cx="2665.6" cy="1263.5" r="7.5" fill="#E6AB02" opacity="0.11"/>
<polyline points="2175.7,1343.5 2420.4,1333.5 2665.6,1313.5" fill="none" stroke="#A6761D" stroke-width="6.1" stroke-linejoin="round" opacity="0.11"/>
<circle cx="2175.7" cy="1343.5" r="7.5" fill="#A6761D" opacity="0.11"/>
<circle cx="2420.4" cy="1333.5" r="7.5" fill="#A6761D" opacity="0.11"/>
<circle cx="2665.6" cy="1313.5" r="7.5" fill="#A6761D" opacity="0.11"/>
<polyline points="2175.7,393.1 2420.4,453.1 2665.6,473.1" fill="none" stroke="#666666" stroke-width="6.1" stroke-linejoin="round" opacity="0.11"/>
<circle cx="2175.7" cy="393.1" r="7.5" fill="#666666" opacity="0.11"/>
<circle cx="2420.4" cy="453.1" r="7.5" fill="#666666" opacity="0.11"/>
<circle cx="2665.6" cy="473.1" r="7.5" fill="#666666" opacity="0.11"/>
<polyline points="2175.7,463.1 2420.4,553.2 2665.6,703.2" fill="none" stroke="#DD4D08" stroke-width="6.1" stroke-linejoin="round"/>
<circle cx="2175.7" cy="463.1" r="7.5" fill="#DD4D08"/>
<circle cx="2420.4" cy="553.2" r="7.5" fill="#DD4D08"/>
<circle cx="2665.6" cy="703.2" r="7.5" fill="#DD4D08"/>
<line x1="2671.0" y1="472.8" x2="2870.5" y2="473.1" stroke="#595959" stroke-width="2.5"/>
<rect x="2870.5" y="454.6" width="81.0" height="37.1" fill="#fff" stroke="#595959" stroke-width="1.5" rx="5" fill-opacity="0.85"/>
<text x="2911.0" y="481.9" font-size="24" text-anchor="middle" fill="#595959">Shots</text>
<line x1="2668.0" y1="702.6" x2="2854.1" y2="684.6" stroke="#CC4A0A" stroke-width="2.5"/>
<rect x="2854.1" y="665.9" width="114.3" height="37.5" fill="#fff" stroke="#D0501A" stroke-width="1.5" rx="5" fill-opacity="0.85"/>
<text x="2911.2" y="693.4" font-size="24" text-anchor="middle" fill="#D0501A">Crossing</text>
<line x1="2668.0" y1="703.6" x2="2856.2" y2="741.3" stroke="#1B9E77" stroke-width="2.5"/>
<rect x="2856.2" y="722.8" width="110.1" height="37.1" fill="#fff" stroke="#1B9E77" stroke-width="1.5" rx="5" fill-opacity="0.85"/>
<text x="2911.2" y="750.1" font-size="24" text-anchor="middle" fill="#1B9E77">Creation</text>
<line x1="2671.0" y1="1083.2" x2="2856.2" y2="1083.2" stroke="#595959" stroke-width="2.5"/>
<rect x="2856.2" y="1064.7" width="110.1" height="37.1" fill="#fff" stroke="#595959" stroke-width="1.5" rx="5" fill-opacity="0.85"/>
<text x="2911.2" y="1092.0" font-size="24" text-anchor="middle" fill="#595959">Carrying</text>
<line x1="2670.5" y1="1250.5" x2="2776.5" y2="1204.0" stroke="#504DA0" stroke-width="2.5"/>
<rect x="2776.5" y="1184.7" width="198.6" height="37.1" fill="#fff" stroke="#5E5BA0" stroke-width="1.5" rx="5" fill-opacity="0.85"/>
<text x="2875.8" y="1212.0" font-size="24" text-anchor="middle" fill="#5E5BA0">Defensive Action</text>
<line x1="2671.0" y1="1263.3" x2="2766.0" y2="1259.6" stroke="#E0A000" stroke-width="2.5"/>
<rect x="2766.0" y="1241.6" width="209.1" height="37.0" fill="#fff" stroke="#DBA526" stroke-width="1.5" rx="5" fill-opacity="0.85"/>
<text x="2870.6" y="1268.9" font-size="24" text-anchor="middle" fill="#DBA526">Passing Accuracy</text>
<line x1="2668.0" y1="1274.6" x2="2776.5" y2="1315.7" stroke="#4C8A1F" stroke-width="2.5"/>
<rect x="2776.5" y="1298.4" width="198.6" height="37.1" fill="#fff" stroke="#5B9226" stroke-width="1.5" rx="5" fill-opacity="0.85"/>
<text x="2875.8" y="1325.8" font-size="24" text-anchor="middle" fill="#5B9226">Long Distribution</text>
<line x1="2667.0" y1="1316.0" x2="2699.4" y2="1359.6" stroke="#8F5F26" stroke-width="2.5"/>
<rect x="2699.4" y="1345.2" width="275.7" height="36.7" fill="#fff" stroke="#8F5F26" stroke-width="1.5" rx="5" fill-opacity="0.85"/>
<text x="2837.2" y="1372.4" font-size="24" text-anchor="middle" fill="#8F5F26">Possession Involvement</text>
<line x1="2152.0" y1="1363.5" x2="2984.4" y2="1363.5" stroke="#000" stroke-width="2.6"/>
<text x="2550.3" y="1486.9" font-size="38.6" stroke="#000" stroke-width="0.9" textLength="216.3" lengthAdjust="spacingAndGlyphs">Similar Players</text>
<rect x="2363.7" y="1530.5" width="534.0" height="41.6" fill="#FD8087" stroke="#000" stroke-width="2.8"/>
<rect x="2860.1" y="1534.7" width="75.3" height="33.2" fill="#fff" stroke="#000" stroke-width="1.7" rx="5.5"/>
<text x="2897.7" y="1558.5" font-size="20" text-anchor="middle">99.3%</text>
<text x="2149.9" y="1546.8" font-size="27.5" stroke="#000" stroke-width="0.7" textLength="170.7" lengthAdjust="spacingAndGlyphs">Yussuf Poulsen</text>
<text x="2187.6" y="1577.0" font-size="27.5" stroke="#000" stroke-width="0.7" textLength="132.9" lengthAdjust="spacingAndGlyphs">(RB Leipzig)</text>
<rect x="2363.7" y="1614.4" width="534.0" height="41.6" fill="#FD8087" stroke="#000" stroke-width="2.8"/>
<rect x="2860.1" y="1618.6" width="75.3" height="33.2" fill="#fff" stroke="#000" stroke-width="1.7" rx="5.5"/>
<text x="2897.7" y="1642.4" font-size="20" text-anchor="middle">99.3%</text>
<text x="2097.6" y="1630.8" font-size="27.5" stroke="#000" stroke-width="0.7" textLength="222.5" lengthAdjust="spacingAndGlyphs">Alexandre Lacazette</text>
<text x="2249.4" y="1661.0" font-size="27.5" stroke="#000" stroke-width="0.7" textLength="71.1" lengthAdjust="spacingAndGlyphs">(Lyon)</text>
<rect x="2363.7" y="1698.2" width="532.4" height="41.6" fill="#FD8087" stroke="#000" stroke-width="2.8"/>
<rect x="2866.9" y="1702.5" width="58.5" height="33.2" fill="#fff" stroke="#000" stroke-width="1.7" rx="5.5"/>
<text x="2896.1" y="1726.2" font-size="20" text-anchor="middle">99%</text>
<text x="2139.5" y="1714.6" font-size="27.5" stroke="#000" stroke-width="0.7" textLength="181.2" lengthAdjust="spacingAndGlyphs">Eli Junior Kroupi</text>
<text x="2225.5" y="1744.8" font-size="27.5" stroke="#000" stroke-width="0.7" textLength="95.1" lengthAdjust="spacingAndGlyphs">(Lorient)</text>
<rect x="2363.7" y="1782.2" width="526.5" height="41.6" fill="#FD8087" stroke="#000" stroke-width="2.8"/>
<rect x="2852.7" y="1786.4" width="75.0" height="33.2" fill="#fff" stroke="#000" stroke-width="1.7" rx="5.5"/>
<text x="2890.2" y="1810.2" font-size="20" text-anchor="middle">97.9%</text>
<text x="2107.6" y="1798.5" font-size="27.5" stroke="#000" stroke-width="0.7" textLength="213.1" lengthAdjust="spacingAndGlyphs">Terem Igobor Moffi</text>
<text x="2252.5" y="1828.8" font-size="27.5" stroke="#000" stroke-width="0.7" textLength="68.1" lengthAdjust="spacingAndGlyphs">(Nice)</text>
<rect x="2363.7" y="1866.0" width="526.5" height="41.6" fill="#FD8087" stroke="#000" stroke-width="2.8"/>
<rect x="2852.7" y="1870.2" width="75.0" height="33.2" fill="#fff" stroke="#000" stroke-width="1.7" rx="5.5"/>
<text x="2890.2" y="1894.0" font-size="20" text-anchor="middle">97.9%</text>
<text x="2140.8" y="1882.4" font-size="27.5" stroke="#000" stroke-width="0.7" textLength="179.8" lengthAdjust="spacingAndGlyphs">Rasmus Hojlund</text>
<text x="2095.7" y="1912.6" font-size="27.5" stroke="#000" stroke-width="0.7" textLength="224.9" lengthAdjust="spacingAndGlyphs">(Manchester United)</text>
<text x="60.1" y="1990.4" font-size="27.8" font-style="italic" fill="#111" stroke="#111" stroke-width="0.7" textLength="353.2" lengthAdjust="spacingAndGlyphs">Source: Understat, Opta via FBref</text>
<text x="60.1" y="2030.4" font-size="27.8" font-style="italic" fill="#111" stroke="#111" stroke-width="0.7" textLength="2893.5" lengthAdjust="spacingAndGlyphs">Notes: Created by @macro_football on 2024-06-01. All percentiles and metrics are relative to all players in the top 5 European leagues. Overall is the player's expected points above replacement (xPAR) percentile. Offense and Defense Impact percentiles and Z-Scores are</text>
<text x="59.7" y="2070.3" font-size="27.8" font-style="italic" fill="#111" stroke="#111" stroke-width="0.7" textLength="2876.9" lengthAdjust="spacingAndGlyphs">the player's isolated impact on xGF and xGA (or GF and GA) per 90, controlling for teammates, opposition players, managers, score, situation, etc..., scaled relative to European Top 5 League average. Finishing (or Saving) Impact percentiles and Z-Scores are the player's</text>
<text x="60.4" y="2110.2" font-size="27.8" font-style="italic" fill="#111" stroke="#111" stroke-width="0.7" textLength="2901.5" lengthAdjust="spacingAndGlyphs">impact on shot xG, relative to European Top 5 League average. Shot (or xG) Share is the share of the team's shots (or xG) that the player takes when on the field. Usage is the share of the team's xG that the player is responsible for when on the field via either shots or shot</text>
<text x="60.3" y="2150.2" font-size="27.8" font-style="italic" fill="#111" stroke="#111" stroke-width="0.7" textLength="2900.2" lengthAdjust="spacingAndGlyphs">assists. Individual characteristics (i.e. dribbling and creating) are based on a dimensionality reduction of each player's micro-statistics (i.e. short pass attempts and interceptions). Player types (i.e. ball-playing defender) are based on a clustering analysis of every player's</text>
<text x="60.4" y="2190.2" font-size="27.8" font-style="italic" fill="#111" stroke="#111" stroke-width="0.7" textLength="999.2" lengthAdjust="spacingAndGlyphs">individual characteristics. Player similarity scores are based on the same clustering analysis.</text>
</svg>
</body></html>
